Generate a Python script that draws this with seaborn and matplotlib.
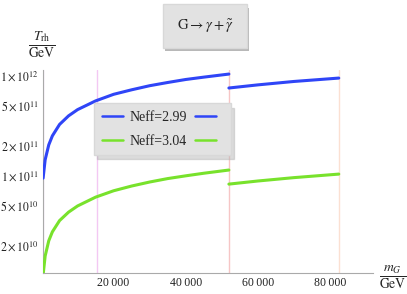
import matplotlib
matplotlib.use('Agg')
import matplotlib.pyplot as plt
import matplotlib.ticker as mticker
import matplotlib.patheffects as pe
import seaborn as sns
import pandas as pd
from matplotlib.lines import Line2D

# values
m_low = [430, 1000, 2000, 3000, 5000, 7500, 10000, 15000, 20000, 25000,
         30000, 35000, 40000, 45000, 52000]
m_high = [52000, 60000, 70000, 82500]
t_blue_low = [9.3e10, 1.42e11, 2.0e11, 2.46e11, 3.2e11, 3.9e11, 4.5e11, 5.5e11,
              6.4e11, 7.1e11, 7.8e11, 8.4e11, 9.0e11, 9.5e11, 1.02e12]
t_blue_high = [7.4e11, 7.95e11, 8.6e11, 9.3e11]
t_green_low = [1.0e10, 1.55e10, 2.2e10, 2.7e10, 3.5e10, 4.25e10, 4.9e10, 6.0e10,
               6.95e10, 7.75e10, 8.5e10, 9.2e10, 9.8e10, 1.04e11, 1.12e11]
t_green_high = [8.1e10, 8.7e10, 9.4e10, 1.02e11]
labels = ['Neff=2.99', 'Neff=3.04']
vlines = [430, 15300, 52000, 82500]
vline_colors = ['#ead2ee', '#f3c8f3', '#f6c6c6', '#fbe0d2']
yticks = [2e10, 5e10, 1e11, 2e11, 5e11, 1e12]
yticklabels = [r'$2\times10^{10}$', r'$5\times10^{10}$', r'$1\times10^{11}$',
               r'$2\times10^{11}$', r'$5\times10^{11}$', r'$1\times10^{12}$']
xticks = [20000, 40000, 60000, 80000]
xticklabels = ['20\u2009000', '40\u2009000', '60\u2009000', '80\u2009000']

rows = []
for lab, seg, ms, ts in [(labels[0], 'a', m_low, t_blue_low), (labels[0], 'b', m_high, t_blue_high),
                         (labels[1], 'c', m_low, t_green_low), (labels[1], 'd', m_high, t_green_high)]:
    for m, t in zip(ms, ts):
        rows.append({'m': m, 'T': t, 'Neff': lab, 'seg': seg})
df = pd.DataFrame(rows)

sns.set_style('white')
plt.rcParams['font.family'] = ['Liberation Serif', 'DejaVu Serif']
plt.rcParams['mathtext.fontset'] = 'stix'

fig = plt.figure(figsize=(4.07, 2.94), dpi=100)
ax = fig.add_axes([43 / 407, 21 / 294, 330 / 407, 203 / 294])

for x, c in zip(vlines, vline_colors):
    ax.axvline(x, color=c, lw=1.0, zorder=1)

palette = {labels[0]: '#2f45f7', labels[1]: '#78e22c'}
sns.lineplot(data=df, x='m', y='T', hue='Neff', units='seg', estimator=None,
             palette=palette, lw=2.2, legend=False, ax=ax, zorder=3)

ax.set_yscale('log')
ax.set_xlim(400, 92000)
ax.set_ylim(1.047e10, 1.12e12)
ax.set_xlabel('')
ax.set_ylabel('')

ax.yaxis.set_major_locator(mticker.FixedLocator(yticks))
ax.yaxis.set_major_formatter(mticker.FixedFormatter(yticklabels))
ax.yaxis.set_minor_locator(mticker.LogLocator(base=10, subs=range(2, 10)))
ax.yaxis.set_minor_formatter(mticker.NullFormatter())
ax.xaxis.set_major_locator(mticker.FixedLocator(xticks))
ax.xaxis.set_major_formatter(mticker.FixedFormatter(xticklabels))
ax.xaxis.set_minor_locator(mticker.MultipleLocator(5000))

ax.tick_params(which='both', direction='in', color='#999999', width=0.6,
               labelsize=8.5, labelcolor='#222222')
ax.tick_params(which='major', length=4, pad=3)
ax.tick_params(which='minor', length=2)
for s in ['top', 'right']:
    ax.spines[s].set_visible(False)
for s in ['left', 'bottom']:
    ax.spines[s].set_color('#aaaaaa')
    ax.spines[s].set_linewidth(0.8)

# legend: sample, label, sample
hb = Line2D([], [], color=palette[labels[0]], lw=1.8)
hg = Line2D([], [], color=palette[labels[1]], lw=1.8)
leg = ax.legend([hb, hg, hb, hg], [labels[0], labels[1], '', ''], ncol=2,
                loc='upper left', bbox_to_anchor=(0.155, 0.835),
                fontsize=10, handlelength=1.5, handletextpad=0.5,
                columnspacing=0.6, labelspacing=0.75, borderpad=0.55,
                borderaxespad=0.0,
                frameon=True, fancybox=False,
                shadow={'color': '#b8b8b8', 'ox': 2, 'oy': -3},
                facecolor='#e2e2e2', edgecolor='#d8d8d8', framealpha=1)
leg.set_zorder(5)

# title box with soft shadow
title = fig.text(205 / 407, 1 - 26 / 294, r'$\mathrm{G}\rightarrow\gamma+\tilde{\gamma}$',
                 ha='center', va='center', fontsize=10.5,
                 bbox=dict(boxstyle='square,pad=0.9', fc='#e2e2e2', ec='#d8d8d8'))
title.get_bbox_patch().set_path_effects(
    [pe.SimplePatchShadow(offset=(1.5, -2.5), shadow_rgbFace='#b8b8b8', alpha=1), pe.Normal()])

fig.text(42 / 407, 1 - 45 / 294, r'$\frac{T_{\mathrm{rh}}}{\mathrm{GeV}}$',
         ha='center', va='center', fontsize=14)
fig.text(393 / 407, 1 - 277 / 294, r'$\frac{m_G}{\mathrm{GeV}}$',
         ha='center', va='center', fontsize=14)

fig.savefig('out.png', dpi=100)
